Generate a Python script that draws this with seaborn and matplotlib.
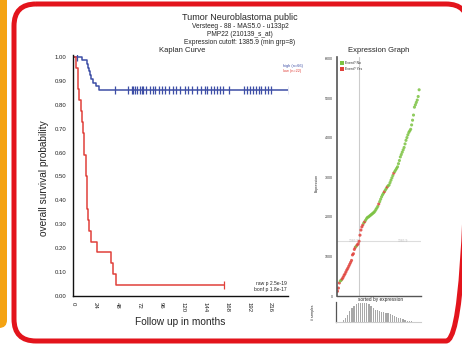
import numpy as np
import pandas as pd
import matplotlib.pyplot as plt
from matplotlib.patches import FancyBboxPatch
import seaborn as sns

# -----------------------------
# DATA
# -----------------------------
# Kaplan-Meier steps (months, survival)
high_t = [0, 10, 15, 16, 17.5, 18.5, 20, 22, 25, 28, 236]
high_s = [1.0, 0.985, 0.97, 0.955, 0.939, 0.923, 0.907, 0.892, 0.877, 0.862, 0.862]
high_cens_t = [4, 46, 60, 64, 66, 68, 70, 73, 75, 77, 80, 84, 87, 90, 94, 97, 101, 105,
               109, 113, 117, 122, 126, 130, 135, 140, 144, 147, 151, 154, 157, 161,
               164, 171, 187, 190, 193, 197, 200, 203, 206, 210, 213, 216, 236]

low_t = [0, 3, 5, 6, 7, 8.5, 9.5, 10.5, 11.5, 12.5, 14, 14.5, 15, 15.5, 15.8, 16.2,
         17, 20, 26, 41, 44, 47, 165]
low_s = [1.0, 0.955, 0.909, 0.864, 0.818, 0.773, 0.727, 0.682, 0.636, 0.591, 0.545,
         0.5, 0.455, 0.409, 0.364, 0.318, 0.273, 0.227, 0.182, 0.136, 0.091, 0.045, 0.045]
low_cens_t = [165]

x_ticks = [0, 24, 48, 72, 96, 120, 144, 168, 192, 216]
y_ticks = [0.0, 0.1, 0.2, 0.3, 0.4, 0.5, 0.6, 0.7, 0.8, 0.9, 1.0]

# sorted expression values (88 samples) and event status
expr = [120, 200, 330, 380, 400, 430, 470, 520, 560, 610, 660, 700, 750, 800, 850, 900,
        1040, 1070, 1180, 1230, 1260, 1290, 1320, 1385.9,
        1540, 1670, 1750, 1800, 1850, 1880, 1920, 1960, 1990, 2000, 2020, 2040, 2060,
        2080, 2100, 2120, 2150, 2190, 2230, 2270, 2330, 2390, 2450, 2510, 2560, 2600,
        2640, 2680, 2720, 2760, 2790, 2810, 2870, 2930, 2990, 3050, 3110, 3150, 3190,
        3230, 3270, 3350, 3430, 3520, 3580, 3640, 3700, 3760, 3850, 3940, 4010, 4080,
        4140, 4180, 4220, 4330, 4450, 4580, 4780, 4840, 4900, 4960, 5050, 5220]
red_idx = [0, 1, 2, 5, 6, 7, 8, 9, 10, 11, 12, 13, 14, 15, 16, 17, 18, 19, 21, 22, 23,
           24, 25, 26, 27, 29, 44, 50, 53, 60]
events = ["Yes" if i in red_idx else "No" for i in range(len(expr))]
cutoff = 1385.9
cut_pos = 23
expr_ticks = [0, 1000, 2000, 3000, 4000, 5000, 6000]

hist_heights = [0, 0, 0, 1, 2, 4, 6, 8, 9, 10, 10.5, 11, 11, 11, 10.5, 10, 9, 8, 7, 6.5,
                6, 5.5, 5.5, 5, 5, 4.5, 4, 3.5, 3, 2.5, 2, 1.5, 1, 0.7, 0.5, 0.3, 0.2,
                0.1, 0, 0]

BLUE = "#3d4ea6"
RED = "#e0403a"
GREEN = "#7cc242"
W, H = 462, 346

sns.set_style("white")
plt.rcParams["font.family"] = ["Liberation Sans", "DejaVu Sans"]


def rect(x0, y0, x1, y1):
    return [x0 / W, 1 - y1 / H, (x1 - x0) / W, (y1 - y0) / H]


fig = plt.figure(figsize=(W / 100, H / 100), dpi=100)

# background frame
bg = fig.add_axes([0, 0, 1, 1])
bg.set_xlim(0, W)
bg.set_ylim(H, 0)
bg.axis("off")
bg.add_patch(FancyBboxPatch((-20, -20), 27, 348, boxstyle="round,pad=0,rounding_size=8",
                            fc="#f4a312", ec="none"))
bg.add_patch(FancyBboxPatch((14, 4), 454, 337, boxstyle="round,pad=0,rounding_size=22",
                            fc="none", ec="#e3141c", lw=3.6))


def ft(x, y, s, **kw):
    fig.text(x / W, 1 - y / H, s, **kw)


ft(240, 18, "Tumor Neuroblastoma public", ha="center", va="center", fontsize=6.5)
ft(240, 26, "Versteeg - 88 - MAS5.0 - u133p2", ha="center", va="center", fontsize=4.8)
ft(240, 34, "PMP22 (210139_s_at)", ha="center", va="center", fontsize=4.8)
ft(240, 42, "Expression cutoff: 1385.9 (min grp=8)", ha="center", va="center", fontsize=4.8)
ft(182, 51, "Kaplan Curve", ha="center", va="center", fontsize=5.5)
ft(379, 51, "Expression Graph", ha="center", va="center", fontsize=5.5)

# -----------------------------
# KAPLAN CURVE
# -----------------------------
ax = fig.add_axes(rect(73, 55, 288, 296))
ax.patch.set_alpha(0)
sns.lineplot(x=high_t, y=high_s, drawstyle="steps-post", estimator=None, color=BLUE,
             lw=1.1, ax=ax)
sns.lineplot(x=low_t, y=low_s, drawstyle="steps-post", estimator=None, color=RED,
             lw=1.1, ax=ax)
hs = [np.interp(t, high_t, high_s, left=1) if t > 28 else 1.0 for t in high_cens_t]
ax.plot(high_cens_t, hs, ls="none", marker="|", ms=6, mew=0.9, color=BLUE)
ax.plot(low_cens_t, [low_s[-1]] * len(low_cens_t), ls="none", marker="|", ms=6,
        mew=0.9, color=RED)
ax.set_xlim(0, 235)
ax.set_ylim(0, 1.008)
ax.set_xticks(x_ticks)
ax.set_xticklabels([str(v) for v in x_ticks], rotation=270, fontsize=4.3)
ax.set_yticks(y_ticks)
ax.set_yticklabels([f"{v:.2f}" for v in y_ticks], fontsize=4.3, color="#333333")
ax.tick_params(direction="out", length=3, width=0.8, pad=1.5, colors="#222222")
for s in ["top", "right"]:
    ax.spines[s].set_visible(False)
for s in ["left", "bottom"]:
    ax.spines[s].set_linewidth(1.0)
    ax.spines[s].set_color("#111111")
ax.set_xlabel("")
ax.set_ylabel("")
ft(44, 178, "overall survival probability", rotation=90, ha="center", va="center",
   fontsize=7.3)
ft(180, 322, "Follow up in months", ha="center", va="center", fontsize=7.3)
ft(283, 66, "high (n=66)", ha="left", va="center", fontsize=2.8, color=BLUE)
ft(283, 71, "low (n=22)", ha="left", va="center", fontsize=2.8, color=RED)
ft(287, 283, "raw p 2.5e-19", ha="right", va="center", fontsize=3.6)
ft(287, 289, "bonf p 1.8e-17", ha="right", va="center", fontsize=3.6)

# -----------------------------
# EXPRESSION GRAPH
# -----------------------------
ae = fig.add_axes(rect(337, 57, 421, 296))
ae.patch.set_alpha(0)
df = pd.DataFrame({"idx": np.arange(len(expr)), "expr": expr, "event": events})
ae.axvline(cut_pos, color="#cccccc", lw=0.8, zorder=0)
ae.axhline(cutoff, color="#dddddd", lw=0.8, zorder=0)
sns.scatterplot(data=df, x="idx", y="expr", hue="event",
                palette={"No": GREEN, "Yes": RED}, s=5, linewidth=0, alpha=0.85,
                legend=False, ax=ae)
ae.set_xlim(-0.5, 89)
ae.set_ylim(0, 6050)
ae.set_xticks([])
ae.set_yticks(expr_ticks)
ae.set_yticklabels([str(v) for v in expr_ticks], fontsize=2.6, color="#333333")
ae.tick_params(axis="y", direction="out", length=2, width=0.6, pad=1)
for s in ["top", "right"]:
    ae.spines[s].set_visible(False)
ae.spines["left"].set_color("#555555")
ae.spines["left"].set_linewidth(1.2)
ae.spines["bottom"].set_color("#555555")
ae.spines["bottom"].set_linewidth(1.0)
ae.set_xlabel("")
ae.set_ylabel("")
ae.text(17, cutoff, "1385.9", fontsize=2.4, color="#bbbbbb", ha="center", va="center")
ae.text(70, cutoff, "1385.9", fontsize=2.4, color="#bbbbbb", ha="center", va="center")
ft(317, 183, "Expression", rotation=90, ha="center", va="center", fontsize=2.6)
bg.scatter([342, 342], [63, 69], marker="s", s=5, c=[GREEN, RED], linewidths=0)
ft(345, 63, "Event? No", ha="left", va="center", fontsize=2.4)
ft(345, 69, "Event? Yes", ha="left", va="center", fontsize=2.4)
ft(380, 299, "sorted by expression", ha="center", va="center", fontsize=3.4)

# histogram below
ah = fig.add_axes(rect(336, 302, 421, 322))
ah.patch.set_alpha(0)
hist_df = pd.DataFrame({"bin": np.arange(len(hist_heights)), "n": hist_heights})
sns.barplot(data=hist_df, x="bin", y="n", color="#a8a8a8", width=0.6,
            saturation=1, edgecolor="none", linewidth=0, ax=ah)
ah.set_xlim(-0.5, len(hist_heights) - 0.5)
ah.set_ylim(0, 11.3)
ah.set_xticks([])
ah.set_yticks([])
ah.set_xlabel("")
ah.set_ylabel("")
for s in ["top", "right"]:
    ah.spines[s].set_visible(False)
ah.spines["left"].set_color("#555555")
ah.spines["left"].set_linewidth(0.9)
ah.spines["bottom"].set_color("#cccccc")
ah.spines["bottom"].set_linewidth(0.8)
ft(313, 312, "# samples", rotation=90, ha="center", va="center", fontsize=2.4)

fig.savefig("out.png", dpi=100)
